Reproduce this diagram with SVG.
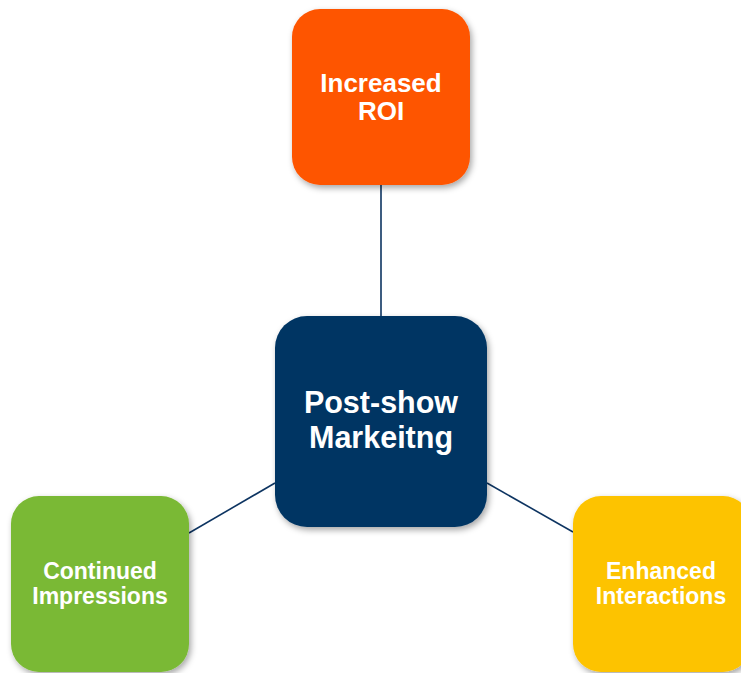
<svg xmlns="http://www.w3.org/2000/svg" width="741" height="673" viewBox="0 0 741 673">
<style>
  .lbl { font-family: "Liberation Sans", Arial, sans-serif; font-weight: bold; fill: #ffffff; text-anchor: middle; }
  .conn { stroke: #0d3461; stroke-width: 1.6; fill: none; }
</style>
<defs>
  <filter id="sh" x="-10%" y="-10%" width="130%" height="130%">
    <feDropShadow dx="2" dy="3" stdDeviation="3" flood-color="#000000" flood-opacity="0.35"/>
  </filter>
</defs>
<rect width="741" height="673" fill="#ffffff"/>
<g id="connectors">
  <line class="conn" x1="381" y1="185" x2="381" y2="316"/>
  <line class="conn" x1="189" y1="533" x2="275" y2="483"/>
  <line class="conn" x1="487" y1="483" x2="573" y2="532"/>
</g>
<g id="node-roi">
  <rect x="292" y="9" width="178" height="176" rx="28" fill="#fe5500" filter="url(#sh)"/>
  <text class="lbl" font-size="26" x="381" y="92">Increased</text>
  <text class="lbl" font-size="26" x="381" y="120">ROI</text>
</g>
<g id="node-center">
  <rect x="275" y="316" width="212" height="211" rx="32" fill="#033663" filter="url(#sh)"/>
  <text class="lbl" font-size="30.5" x="381" y="413">Post-show</text>
  <text class="lbl" font-size="30.5" x="381" y="448">Markeitng</text>
</g>
<g id="node-continued">
  <rect x="11" y="496" width="178" height="176" rx="28" fill="#7ab934" filter="url(#sh)"/>
  <text class="lbl" font-size="23" x="100" y="579">Continued</text>
  <text class="lbl" font-size="23" x="100" y="604">Impressions</text>
</g>
<g id="node-enhanced">
  <rect x="573" y="496" width="178" height="176" rx="28" fill="#fdc300" filter="url(#sh)"/>
  <text class="lbl" font-size="23" x="661" y="579">Enhanced</text>
  <text class="lbl" font-size="23" x="661" y="604">Interactions</text>
</g>
</svg>
